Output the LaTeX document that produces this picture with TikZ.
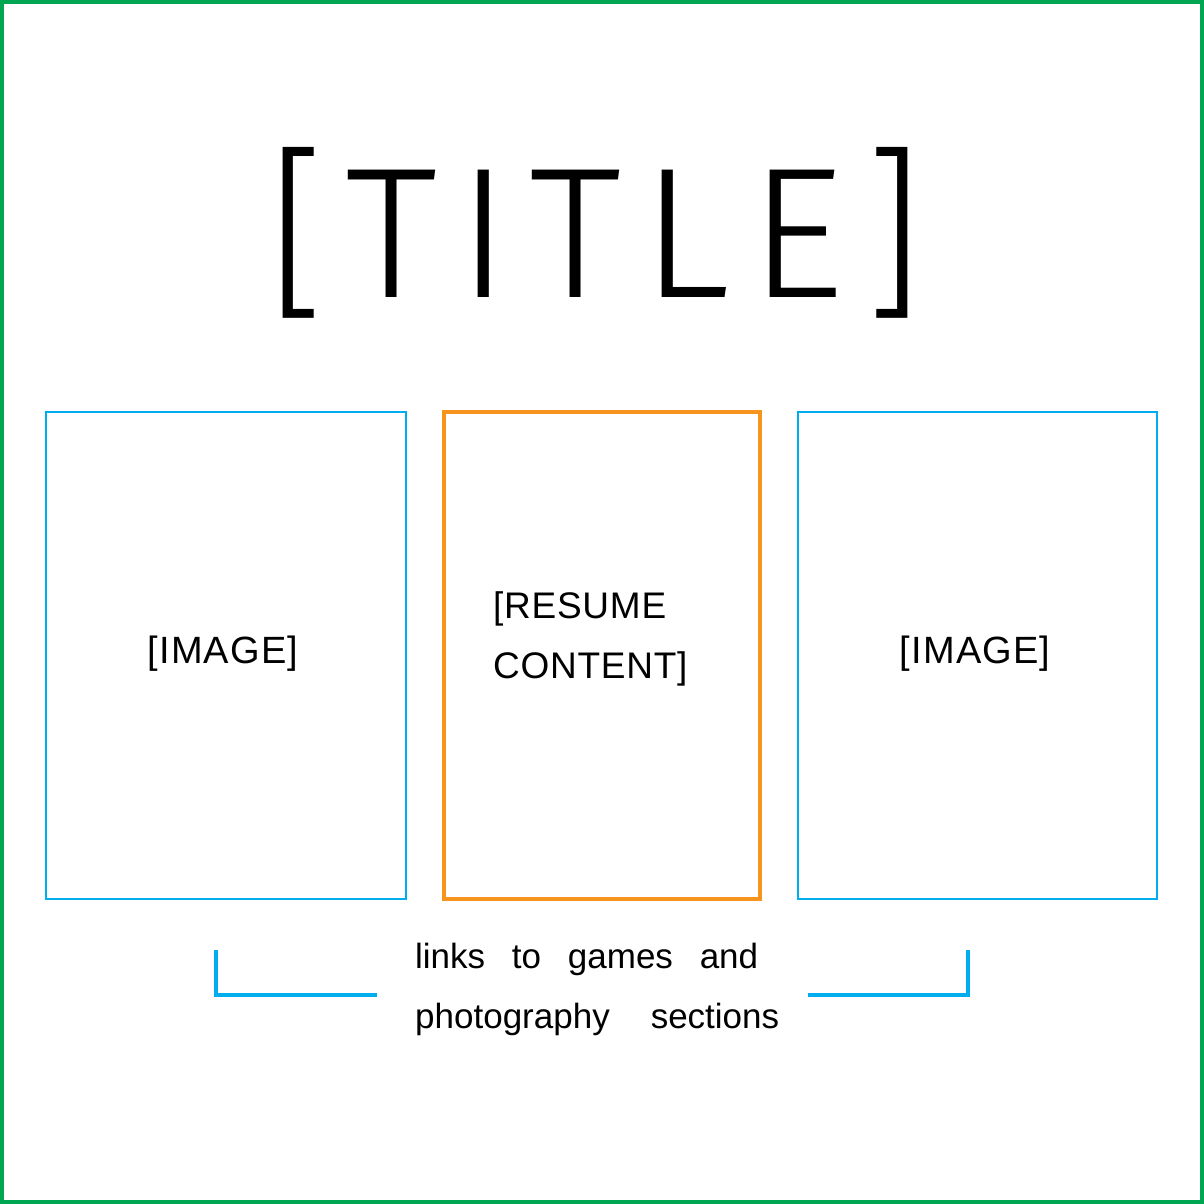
\documentclass[tikz,border=0pt]{standalone}
\usepackage{fontspec}
\setmainfont{Liberation Sans}
\IfFontExistsTF{Fira Sans Light}{\newfontfamily\titlefont{Fira Sans Light}}{\newfontfamily\titlefont{Liberation Sans}}
\definecolor{frameg}{RGB}{0,166,81}
\definecolor{cyanb}{RGB}{0,174,239}
\definecolor{orangeb}{RGB}{247,148,30}
\tikzset{
  imgbox/.style={draw=cyanb, line width=1.8pt, minimum width=360pt, minimum height=487pt, inner sep=0pt},
  resbox/.style={draw=orangeb, line width=3.5pt, minimum width=316pt, minimum height=487pt, inner sep=0pt},
  lbl/.style={font=\fontsize{37}{60}\selectfont, inner sep=0pt},
  brk/.style={draw=cyanb, line width=4pt},
}
\begin{document}
\begin{tikzpicture}[x=1pt,y=-1pt]
\useasboundingbox (0,0) rectangle (1204,1204);
\draw[frameg, line width=4pt] (2,2) rectangle (1202,1202);
\node[inner sep=0pt, anchor=base west, font=\titlefont\fontsize{186}{186}\selectfont] (title) at (267,297) {\hbox to 656pt{[\hfill T\hfill I\hfill T\hfill L\hfill E\hfill]}};
\node[imgbox] (left) at (226,655.5) {};
\node[resbox] (mid) at (602,655.5) {};
\node[imgbox, minimum width=359pt] (right) at (977.5,655.5) {};
\node[lbl, anchor=base, font=\fontsize{38}{60}\selectfont\addfontfeature{LetterSpace=3}] (limg) at (223,663) {[IMAGE]};
\node[lbl, anchor=base, font=\fontsize{38}{60}\selectfont\addfontfeature{LetterSpace=3}] (rimg) at (975,663) {[IMAGE]};
\node[lbl, anchor=base west, font=\fontsize{37}{60}\selectfont\addfontfeature{LetterSpace=2}] (res1) at (493,618) {[RESUME};
\node[lbl, anchor=base west, font=\fontsize{37}{60}\selectfont\addfontfeature{LetterSpace=2}] (res2) at (493,678) {CONTENT]};
\node[lbl, anchor=base west, font=\fontsize{35}{60}\selectfont] (link1) at (415,968) {\hbox to 343pt{links\hfill to\hfill games\hfill and}};
\node[lbl, anchor=base west, font=\fontsize{35}{60}\selectfont] (link2) at (415,1028) {\hbox to 364pt{photography\hfill sections}};
\coordinate (la) at (216,950);
\coordinate (lb) at (216,995);
\coordinate (lc) at (377,995);
\coordinate (ra) at (808,995);
\coordinate (rb) at (968,995);
\coordinate (rc) at (968,950);
\draw[brk] (la) -- (lb) -- (lc);
\draw[brk] (ra) -- (rb) -- (rc);
\end{tikzpicture}
\end{document}
